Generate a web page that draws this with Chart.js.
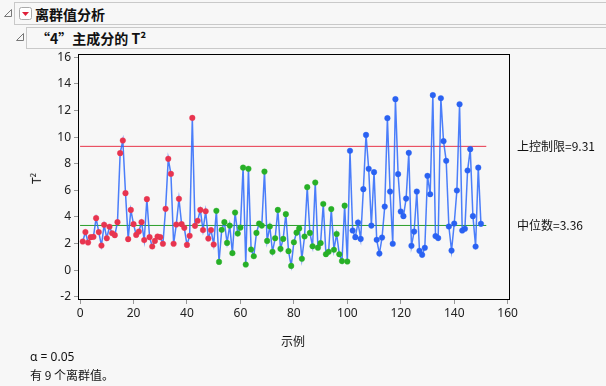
<!DOCTYPE html>
<html>
<head>
<meta charset="utf-8">
<script src="https://cdn.jsdelivr.net/npm/chart.js@4/dist/chart.umd.min.js"></script>
<style>
  html, body { margin:0; padding:0; background:#f7f7f7; }
  body { width:606px; height:386px; position:relative; overflow:hidden;
         font-family:"Noto Sans","Noto Sans CJK SC",sans-serif; color:#111; }
  .hdr { position:absolute; border:1px solid #c9c9c9; border-right:none; background:#f7f7f7; box-sizing:border-box; }
  .hdr span { position:absolute; font-weight:bold; font-size:14px; font-family:"Noto Sans CJK SC","Noto Sans",sans-serif; white-space:nowrap; }
  .txt { position:absolute; font-size:12px; white-space:nowrap; font-family:"Noto Sans","Noto Sans CJK SC",sans-serif; color:#111; }
  canvas { position:absolute; left:0; top:0; }
</style>
</head>
<body>
<svg style="position:absolute;left:3px;top:8px" width="10" height="10"><path d="M8.5 1.5 L8.5 8.5 L1.5 8.5 Z" fill="none" stroke="#777" stroke-width="1"/></svg>
<div class="hdr" style="left:14px;top:2px;width:592px;height:23px;">
  <svg style="position:absolute;left:4px;top:4px" width="13" height="13"><rect x="0.5" y="0.5" width="12" height="12" rx="2" fill="#fff" stroke="#aaa"/><path d="M3 5 L10 5 L6.5 9 Z" fill="#e0203a"/></svg>
  <span style="left:20px;top:1px;">离群值分析</span>
</div>
<svg style="position:absolute;left:15px;top:32px" width="10" height="10"><path d="M8.5 1.5 L8.5 8.5 L1.5 8.5 Z" fill="none" stroke="#777" stroke-width="1"/></svg>
<div class="hdr" style="left:26px;top:27px;width:580px;height:22px;">
  <span style="left:9px;top:0px;">“4”主成分的 T²</span>
</div>

<canvas id="c" width="606" height="386"></canvas>

<div class="txt" style="left:31px;top:170px;transform:rotate(-90deg);transform-origin:center;">T²</div>
<div class="txt" style="left:281px;top:332px;font-family:'Noto Sans CJK SC',sans-serif;">示例</div>
<div class="txt" style="left:30px;top:348px;">α = 0.05</div>
<div class="txt" style="left:30px;top:366px;font-family:'Noto Sans CJK SC',sans-serif;">有 9 个离群值。</div>

<script>
// ---- data ----
const groupA = [2.15,2.86,2.08,2.48,2.50,3.91,2.86,1.85,3.41,2.40,3.26,2.78,2.63,3.61,8.80,9.75,5.79,2.33,4.53,3.46,
                2.65,2.90,3.61,2.26,5.34,2.48,1.78,2.20,2.53,2.48,1.98,4.61,8.37,7.24,1.98,3.43,5.36,3.46,3.18,1.90,
                2.58,11.45,3.33,3.71,4.53,3.01,4.43,2.38,3.01,1.93];
const groupB = [4.46,0.62,3.03,3.61,2.05,3.35,1.28,4.33,2.75,3.20,7.71,0.42,7.62,1.55,1.05,2.80,3.50,3.35,7.41,2.20,
                3.28,1.38,2.40,4.53,1.60,2.35,4.21,1.43,0.32,2.10,2.82,3.14,0.86,2.53,6.24,2.80,1.80,6.59,1.69,2.03,
                4.98,1.20,1.38,4.59,1.53,2.72,1.20,0.68,4.85,0.65];
const groupC = [8.97,2.98,2.48,3.58,2.35,6.09,10.17,7.62,3.35,7.37,2.28,1.25,2.45,4.78,11.43,5.91,1.98,12.86,7.22,4.41,
                4.06,5.38,8.82,1.83,2.90,5.91,1.45,1.15,1.68,7.09,5.71,13.16,2.56,2.41,12.93,9.70,8.22,3.28,1.47,3.50,
                5.99,12.48,2.98,3.11,7.49,9.10,4.06,1.77,7.71,3.48];
const upperLimit = 9.31;
const median = 3.36;
const limitSpan = [0, 152];
const xTicks = [0,20,40,60,80,100,120,140,160];
const yTicks = [-2,0,2,4,6,8,10,12,14,16];
const labelUCL = "上控制限=9.31";
const labelMedian = "中位数=3.36";

// ---- build ----
const groupColors = ['#e8344f', '#27b027', '#2a62f2'];
const pts = [], ptColors = [];
[groupA, groupB, groupC].forEach((g, gi) => {
  g.forEach(v => { pts.push({x: pts.length + 1, y: v}); ptColors.push(groupColors[gi]); });
});

const framePlugin = {
  id: 'frame',
  afterDatasetsDraw(chart) {
    const a = chart.chartArea, ctx = chart.ctx;
    ctx.save();
    ctx.strokeStyle = '#000'; ctx.lineWidth = 1;
    ctx.strokeRect(Math.round(a.left) - 0.5, Math.round(a.top) - 0.5, Math.round(a.right - a.left) + 1, Math.round(a.bottom - a.top) + 1);
    ctx.restore();
  },
  afterDraw(chart) {
    const ctx = chart.ctx, ys = chart.scales.y;
    ctx.save();
    ctx.fillStyle = '#111';
    ctx.font = '12px "Noto Sans CJK SC", "Noto Sans", sans-serif';
    ctx.textBaseline = 'middle';
    ctx.fillText(labelUCL, 517, ys.getPixelForValue(upperLimit));
    ctx.fillText(labelMedian, 517, ys.getPixelForValue(median));
    ctx.restore();
  }
};

const tickFont = { family: '"Noto Sans", sans-serif', size: 12 };

new Chart(document.getElementById('c'), {
  type: 'scatter',
  data: {
    datasets: [
      { data: pts, showLine: true, borderColor: 'rgba(45,105,250,0.85)', borderWidth: 1.5,
        pointBackgroundColor: ptColors, pointBorderColor: ptColors.map(c => c + '66'), pointBorderWidth: 1,
        pointRadius: 2.8, order: 0 },
      { data: limitSpan.map(x => ({x, y: upperLimit})), showLine: true, borderColor: '#e8344a', borderWidth: 1,
        pointRadius: 0, order: 2 },
      { data: limitSpan.map(x => ({x, y: median})), showLine: true, borderColor: '#2a9e2a', borderWidth: 1,
        pointRadius: 0, order: 1 }
    ]
  },
  options: {
    responsive: false, animation: false, devicePixelRatio: 1,
    layout: { padding: { left: 0, top: 55, right: 97, bottom: 57 } },
    plugins: { legend: { display: false }, tooltip: { enabled: false } },
    scales: {
      x: {
        type: 'linear', min: -0.4, max: 160.5,
        afterBuildTicks: s => { s.ticks = xTicks.map(v => ({value: v})); },
        afterFit: s => { s.height = 30; },
        grid: { drawOnChartArea: false, tickLength: 5, color: '#999' },
        border: { display: false },
        ticks: { color: '#222', font: tickFont, padding: 2, maxRotation: 0, autoSkip: false }
      },
      y: {
        type: 'linear', min: -2.17, max: 16.18,
        afterBuildTicks: s => { s.ticks = yTicks.map(v => ({value: v})); },
        afterFit: s => { s.width = 79; },
        grid: { drawOnChartArea: false, tickLength: 5, color: '#999' },
        border: { display: false },
        ticks: { color: '#222', font: tickFont, padding: 3, autoSkip: false }
      }
    }
  },
  plugins: [framePlugin]
});
</script>
</body>
</html>
